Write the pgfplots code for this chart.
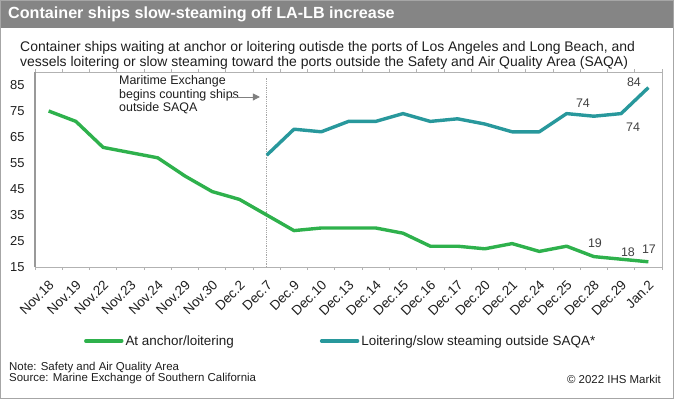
\documentclass[border=0pt]{standalone}
\usepackage{pgfplots}
\pgfplotsset{compat=1.18}
\usepackage{fontspec}
\setmainfont{Liberation Sans}
\usetikzlibrary{arrows.meta}
\definecolor{cgreen}{RGB}{46,177,76}
\definecolor{cteal}{RGB}{40,152,156}
\definecolor{tbar}{RGB}{133,133,133}
\definecolor{ctext}{RGB}{30,30,30}
\definecolor{clab}{RGB}{64,64,64}
\pgfplotstableread{
x y
0 75
1 71
2 61
3 59
4 57
5 50
6 44
7 41
8 35
9 29
10 30
11 30
12 30
13 28
14 23
15 23
16 22
17 24
18 21
19 23
20 19
21 18
22 17
}\anchordata
\pgfplotstableread{
x y
8 58
9 68
10 67
11 71
12 71
13 74
14 71
15 72
16 70
17 67
18 67
19 74
20 73
21 74
22 84
}\saqadata
\begin{document}
\begin{tikzpicture}[x=1bp,y=1bp]
\path[use as bounding box] (0,0) rectangle (674,399);
\fill[tbar] (0,371) rectangle (674,399);
\draw[gray!70,line width=0.8bp] (0.4,0.4) rectangle (673.6,398.6);
\node[anchor=west,text=white,font=\fontsize{16.2}{19}\selectfont\bfseries,inner sep=0pt] at (8,385) {Container ships slow-steaming off LA-LB increase};
\node[anchor=west,text=ctext,font=\fontsize{14}{16}\selectfont,inner sep=0pt] at (20,351) {Container ships waiting at anchor or loitering outisde the ports of Los Angeles and Long Beach, and};
\node[anchor=west,text=ctext,font=\fontsize{14}{16}\selectfont,inner sep=0pt] at (20,336) {vessels loitering or slow steaming toward the ports outside the Safety and Air Quality Area (SAQA)};
\begin{axis}[
  at={(35bp,132bp)}, anchor=south west,
  scale only axis, width=627bp, height=195bp,
  xmin=-0.5, xmax=22.5, ymin=15, ymax=90,
  ytick={15,25,...,85},
  xtick={0,...,22},
  xticklabels={Nov.18,Nov.19,Nov.22,Nov.23,Nov.24,Nov.29,Nov.30,Dec.2,Dec.7,Dec.9,Dec.10,Dec.13,Dec.14,Dec.15,Dec.16,Dec.17,Dec.20,Dec.21,Dec.24,Dec.25,Dec.28,Dec.29,Jan.2},
  minor xtick={-0.5,0.5,...,22.5},
  tick align=outside,
  major tick length=0pt,
  minor tick length=3bp,
  minor x tick style={gray!60, line width=0.8bp},
  axis line style={gray!60, line width=0.8bp},
  every x tick label/.append style={xshift=3bp, yshift=-16bp, rotate=45, anchor=east, font=\fontsize{13.5}{15}\selectfont, text=ctext, inner sep=0bp},
  yticklabel style={font=\fontsize{13}{14}\selectfont, text=ctext, xshift=-7bp},
  /pgf/number format/assume math mode=true,
  clip=false,
  legend style={draw=none, fill=none, at={(0.078,-0.379)}, anchor=west, legend columns=2,
    font=\fontsize{13.5}{15}\selectfont, text=ctext, inner sep=0pt,
    /tikz/every even column/.append style={column sep=84bp}},
  legend cell align=left,
  legend image code/.code={\draw[#1, line cap=round] (0bp,0bp) -- (36bp,0bp);},
]
\draw[gray!80, line width=1.2bp] (axis cs:-0.5,15) -- (axis cs:-0.5,90);
\draw[gray!70, densely dotted, line width=0.8bp] (axis cs:8,15) -- (axis cs:8,88);
\addplot[cgreen, line width=3.4bp, line join=round] table[x=x,y=y] {\anchordata};
\addlegendentry{At anchor/loitering}
\addplot[cteal, line width=3.4bp, line join=round] table[x=x,y=y] {\saqadata};
\addlegendentry{Loitering/slow steaming outside SAQA*}
\node[anchor=north west, align=left, font=\fontsize{12.5}{13.5}\selectfont, text=ctext, inner sep=0pt] at (axis cs:2.58,88.6) {Maritime Exchange\\begins counting ships\\outside SAQA};
\draw[gray, line width=0.9bp, -{Triangle[length=7bp,width=7bp]}] (axis cs:6.64,80.4) -- (axis cs:7.75,80.4);
\node[font=\fontsize{12.5}{14}\selectfont, text=clab] at (axis cs:21.47,86.2) {84};
\node[font=\fontsize{12.5}{14}\selectfont, text=clab] at (axis cs:19.6,78.1) {74};
\node[font=\fontsize{12.5}{14}\selectfont, text=clab] at (axis cs:21.44,68.8) {74};
\node[font=\fontsize{12.5}{14}\selectfont, text=clab] at (axis cs:20.04,24.2) {19};
\node[font=\fontsize{12.5}{14}\selectfont, text=clab] at (axis cs:21.25,20.8) {18};
\node[font=\fontsize{12.5}{14}\selectfont, text=clab] at (axis cs:22.02,21.9) {17};
\end{axis}
\node[anchor=west,text=ctext,font=\fontsize{11.5}{13}\selectfont,inner sep=0pt] at (9,31) {Note: Safety and Air Quality Area};
\node[anchor=west,text=ctext,font=\fontsize{11.5}{13}\selectfont,inner sep=0pt] at (9,20) {Source: Marine Exchange of Southern California};
\node[anchor=east,text=ctext,font=\fontsize{11.5}{13}\selectfont,inner sep=0pt] at (661,20) {\textcopyright{} 2022 IHS Markit};
\end{tikzpicture}
\end{document}
